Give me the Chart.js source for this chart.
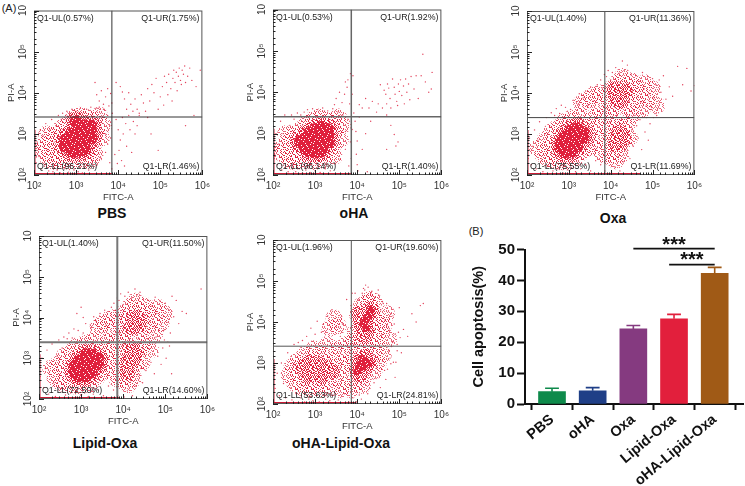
<!DOCTYPE html>
<html><head><meta charset="utf-8">
<script src="https://cdn.jsdelivr.net/npm/chart.js@4"></script>
<style>
html,body{margin:0;padding:0;background:#fff;width:745px;height:486px;overflow:hidden}
canvas{position:absolute;display:block}
.t{position:absolute;font-family:"Liberation Sans",Arial,sans-serif;color:#111;white-space:nowrap;transform:translate(-50%,-50%)}
.b{font-weight:bold;font-size:14px}
.p{font-size:11px;color:#222}
</style></head><body>
<div class="t p" style="left:9px;top:8px">(A)</div>
<div class="t p" style="left:476px;top:231px">(B)</div>
<div class="t b" style="left:112px;top:213px">PBS</div>
<div class="t b" style="left:354px;top:213px">oHA</div>
<div class="t b" style="left:613px;top:218px">Oxa</div>
<div class="t b" style="left:105px;top:443px">Lipid-Oxa</div>
<div class="t b" style="left:341px;top:443px">oHA-Lipid-Oxa</div>
<script>
// All flow-cytometry coordinates are log10(value) x 100, as flat x,y lists.
const pbsLabels=['Q1-UL(0.57%)','Q1-UR(1.75%)','Q1-LL(96.21%)','Q1-LR(1.46%)'];
const ohaLabels=['Q1-UL(0.53%)','Q1-UR(1.92%)','Q1-LL(96.14%)','Q1-LR(1.40%)'];
const oxaLabels=['Q1-UL(1.40%)','Q1-UR(11.36%)','Q1-LL(75.55%)','Q1-LR(11.69%)'];
const lipLabels=['Q1-UL(1.40%)','Q1-UR(11.50%)','Q1-LL(72.50%)','Q1-LR(14.60%)'];
const allLabels=['Q1-UL(1.96%)','Q1-UR(19.60%)','Q1-LL(53.63%)','Q1-LR(24.81%)'];

const pbsCore=[275,285,275,270,290,300,290,285,290,270,290,258,305,315,305,300,305,285,305,270,305,258,320,320,320,305,320,290,320,275,320,262,335,320,335,305,335,290,300,330];
const pbsDense=[];
const pbsHalo=[225,275,235,250,240,290,245,265,250,300,255,235,255,280,260,250,265,315,265,235,270,300,275,240,280,325,285,232,295,340,300,235,310,345,320,235,325,340,335,255,340,335,345,280,350,310,355,345,360,290,365,320,345,250,250,232,235,235,230,300,215,260,335,235];
const pbsSpecks=[205,230,208,280,212,245,215,310,218,215,222,295,225,225,228,325,232,262,235,210,238,310,242,335,245,208,248,280,252,320,255,212,258,345,262,205,265,335,268,350,272,215,275,345,278,355,282,207,285,350,290,360,295,212,300,355,305,208,310,362,315,205,320,218,325,360,330,212,335,365,340,235,345,362,350,225,355,365,360,240,365,360,370,255,370,300,375,345,375,275,380,320,380,230,382,290,385,215,386,350,349,395,355,380,360,405,365,372,370,390,375,410,378,368,382,398,385,375,350,362,345,425,395,335,400,310,405,285,402,260,410,340,412,300,418,325,420,270,425,345,428,310,432,255,436,330,440,300,445,320,450,345,392,250,398,228,408,235,415,222,470,340,478,300,495,260,580,345,560,320,395,425,405,415,410,402,415,385,420,360,425,400,430,372,435,355,440,385,445,360,450,350,455,395,460,375,465,355,470,410,475,380,480,420,485,400,490,435,495,360,500,390,505,415,508,370,510,440,515,425,518,395,520,445,525,410,528,380,530,435,532,455,535,425,538,450,540,405,543,440,545,460,548,430,550,420,552,455,555,445,558,465,560,425,565,440,570,460,575,430,595,455,585,415];

const ohaCore=[265,280,275,285,275,270,285,300,285,285,285,270,285,258,300,310,300,295,300,280,300,265,300,255,315,315,315,300,315,285,315,270,315,258,330,310,330,295,330,280];
const ohaDense=[];
const ohaHalo=[225,270,235,245,240,285,245,260,250,300,252,235,255,275,260,245,265,310,268,235,272,300,280,325,282,235,295,335,298,232,310,340,320,235,325,335,335,255,340,330,345,275,350,310,355,340,360,285,365,320,345,245,250,232,235,235,230,300,215,255];
const ohaSpecks=[204,250,207,300,210,225,214,275,218,330,221,212,224,300,228,345,232,238,236,208,240,320,244,345,248,225,250,335,254,208,258,350,262,215,266,345,270,205,274,352,278,212,282,358,288,206,294,360,300,210,306,358,312,206,318,362,324,215,330,355,336,210,342,360,348,228,354,352,360,238,366,345,372,262,372,305,378,335,380,222,384,280,386,240,388,310,350,385,358,400,364,375,370,395,376,412,382,372,346,370,378,430,384,445,372,425,390,440,388,395,392,350,395,330,397,305,400,282,398,250,400,225,402,210,405,340,412,262,420,300,424,208,432,330,470,345,480,320,488,298,492,270,470,262,497,280,405,370,412,362,420,385,428,362,436,378,446,352,450,372,455,418,460,362,464,405,468,395,470,372,472,420,475,410,478,385,480,362,484,432,488,412,490,395,494,378,496,368,498,420,500,402,503,430,506,392,510,415,512,372,515,432,518,400,522,420,525,382,528,438,535,408,540,440,545,385,552,440,556,492,562,425,570,400,578,448,576,408];

const oxaCore=[280,280,280,265,290,295,290,280,290,265,290,255,305,310,305,295,305,280,305,265,305,255,320,315,320,300,320,285,320,270,335,305,335,290];
const oxaDense=[425,400,415,390,435,405,420,380,410,410,418,290,425,280,412,275,420,305,430,295];
const oxaHalo=[225,265,238,250,242,285,250,238,255,270,258,305,265,235,268,255,272,315,282,232,288,330,298,232,305,338,315,240,325,345,330,255,345,265,345,325,352,300,358,340,362,270,368,315,375,290,380,340,380,250,330,375,345,385,360,395,370,365,375,400,395,310,400,280,405,260,410,295,415,320,418,270,422,295,428,315,425,250,432,285,440,325,445,290,450,345,405,340,395,245,412,235,395,380,400,410,408,365,412,395,415,425,420,380,425,405,428,440,432,385,436,415,440,365,445,400,450,430,455,380,460,415,470,395,475,360,482,425,490,385,500,410,510,370];
const oxaSpecks=[203,240,206,290,210,225,214,270,218,310,222,215,226,285,230,330,234,240,238,208,242,300,246,340,250,222,254,320,258,352,262,210,266,345,270,362,274,215,278,350,282,370,286,205,292,365,298,212,304,360,310,382,316,208,322,372,328,215,334,388,340,225,346,370,352,210,358,380,364,235,370,390,376,225,382,355,386,210,352,415,340,405,325,398,318,378,368,420,380,412,385,445,376,432,390,440,394,455,398,330,402,205,406,300,410,220,414,345,418,245,422,210,426,335,430,232,434,260,438,345,442,275,446,240,450,310,454,270,458,345,462,320,466,290,470,335,474,262,478,350,482,305,486,340,490,285,494,325,498,360,502,340,506,350,510,345,392,362,396,402,400,432,404,450,408,388,412,462,416,405,420,448,424,372,428,478,432,455,436,392,440,468,444,380,448,445,452,405,456,358,460,442,464,392,468,428,472,378,476,450,480,410,484,368,488,440,492,398,496,368,500,435,504,388,508,420,512,362,516,432,520,402,526,442,532,385,540,415,548,392,560,465,572,420,582,460,592,405,600,418];

const lipCore=[285,280,285,265,295,295,295,280,295,265,295,255,310,310,310,295,310,280,310,265,310,255,325,310,325,295,325,280,325,265,340,300,340,285];
const lipDense=[428,385,435,380,420,375,440,392,425,400,418,310,425,300,412,290,420,325,430,315,410,265];
const lipHalo=[228,275,238,250,245,285,252,240,256,270,260,305,265,235,270,255,275,315,285,232,290,330,300,232,310,338,320,235,330,345,335,250,350,265,350,325,358,300,362,340,368,270,372,315,380,290,385,340,385,250,340,375,350,385,365,395,372,365,380,400,395,310,400,280,405,260,410,295,415,320,418,270,422,295,428,315,425,250,432,285,440,325,445,290,452,335,405,340,395,245,412,235,465,320,395,380,400,410,408,365,412,395,415,425,420,380,425,405,428,440,432,385,436,415,440,365,445,400,450,430,455,380,460,415,470,395,475,360,482,425,490,385,498,410];
const lipSpecks=[203,255,207,300,211,228,215,275,219,320,223,212,227,290,231,335,235,240,239,206,243,305,247,345,251,225,255,325,259,352,263,210,267,348,271,362,275,215,279,350,283,372,287,205,293,368,299,210,305,362,311,385,317,206,323,375,329,212,335,392,341,222,347,372,353,208,359,382,365,232,371,392,377,222,383,358,387,208,356,418,345,410,330,402,322,382,305,400,300,425,290,410,372,425,382,418,386,448,378,435,390,442,394,458,398,332,402,205,406,302,410,220,414,348,418,245,422,208,426,338,430,232,434,260,438,348,442,275,446,240,450,310,454,270,458,348,462,322,466,290,470,338,474,262,478,352,482,305,486,342,490,285,494,325,498,345,502,300,506,340,510,330,515,262,392,362,396,402,400,432,404,452,408,388,412,462,416,405,420,448,424,372,428,470,432,455,436,392,440,462,444,380,448,445,452,405,456,358,460,442,464,392,468,428,472,378,476,450,480,410,484,368,488,440,492,398,496,368,500,435,504,388,508,420,512,362,516,452,520,402,526,442,532,385,540,415,550,410,585,470];

const allCore=[405,295,415,290,418,305,428,300,410,310,400,280,415,395,422,385,420,405,428,415,432,430];
const allDense=[270,290,285,268,285,300,300,275,305,300,315,268,325,290,340,280,405,300,420,290,420,315,430,300,405,270,410,395,420,380,425,410,432,430,415,365,405,420];
const allHalo=[238,270,245,290,252,250,258,305,262,270,268,240,270,295,275,320,278,260,285,235,285,280,290,310,295,245,298,335,305,290,305,265,312,235,312,320,320,285,320,255,328,305,330,345,335,238,340,280,345,310,355,260,355,335,362,235,365,295,375,345,378,270,385,310,385,235,390,355,395,250,400,335,412,245,415,265,425,350,440,325,440,280,448,345,450,300,462,320,395,375,400,420,405,395,405,355,410,440,412,375,415,425,420,360,425,450,428,385,430,455,438,385,438,415,440,450,445,365,448,405,455,380,465,395,470,420,475,360,378,300,355,390,345,410,335,385];
const allSpecks=[205,238,210,275,215,220,220,300,225,250,230,215,235,325,240,240,245,210,250,345,255,225,260,350,265,215,270,355,275,205,280,365,285,212,290,385,295,208,300,370,305,402,310,205,315,375,320,395,325,212,330,415,335,208,340,430,345,222,350,390,355,210,360,365,365,395,370,225,375,455,380,205,385,440,390,215,395,470,400,228,405,222,410,212,415,482,420,490,425,225,430,238,435,475,440,252,445,262,450,478,455,240,460,450,465,282,470,445,475,330,480,298,485,415,490,370,495,345,500,435,505,325,510,382,520,365,530,420,540,400,550,440,557,445,388,470,392,345,398,205,405,455,412,470,418,478,422,462,426,485,432,470,436,465,442,460,448,440,452,465,456,430,458,368,462,445,466,405,470,392,476,380,480,420,484,350,488,395,492,302,495,330,498,375,502,362,460,305,468,260,472,285,478,312,482,340,486,302,490,265];

const pbsEdges=[200,385,200,310], ohaEdges=[200,386,200,312], oxaEdges=[200,470,200,310], lipEdges=[200,390,200,310], allEdges=[200,395,200,310];

// stipple used to fill the dense parts of each cloud
const stipple=["7291508364917250","3846172905382641","0519637428160793","6283904175926348","9471260853740125","1738492016583769","5062817349271804","2947350681496352","8305162794038167","4619728530651429","7182405963287510","0354891276419836","6927143508762094","3580269417035681","9146735820194273","1870426395628547"];
function stipplePattern(level,alpha){
  const t=document.createElement('canvas');t.width=t.height=16;const x=t.getContext('2d');
  x.fillStyle=`rgba(224,32,60,${alpha})`;
  stipple.forEach((r,j)=>[...r].forEach((d,i)=>{if(+d<level)x.fillRect(i,j,1,1)}));
  return x.createPattern(t,'repeat');
}
const decades={100:'10²',1000:'10³',10000:'10⁴',100000:'10⁵',1000000:'10⁶'};
const pairs=f=>{const o=[];for(let i=0;i<f.length;i+=2)o.push({x:10**(f[i]/100),y:10**(f[i+1]/100)});return o};
const F='"Liberation Sans",Arial,sans-serif';

function panel(L,T,R,B,gx,gy,lineColor,lineW,labels,core,dense,halo,specks,edges,coreR){
  const c=document.createElement('canvas');
  const left=34,top=6,right=12,bot=28;
  c.width=R-L+left+right;c.height=B-T+top+bot;
  c.style.left=(L-left)+'px';c.style.top=(T-top)+'px';
  c.style.width=c.width+'px';c.style.height=c.height+'px';
  document.body.appendChild(c);
  const line=(data,col,w)=>({type:'scatter',showLine:true,data,borderColor:col,borderWidth:w,pointRadius:0,fill:false});
  const g=x=>10**(x/100);
  new Chart(c,{type:'scatter',
    data:{datasets:[
      {...line([{x:g(gx),y:100},{x:g(gx),y:1e6}],lineColor,lineW),order:0},
      {...line([{x:100,y:g(gy)},{x:1e6,y:g(gy)}],lineColor,lineW),order:0},
      {...line([{x:g(edges[0]),y:100},{x:g(edges[1]),y:100}],'#c81a34',4),order:1},
      {...line([{x:100,y:g(edges[2])},{x:100,y:g(edges[3])}],'#c81a34',3),order:1},
      {data:pairs(specks),pointRadius:0.7,borderWidth:0,backgroundColor:'rgba(222,34,64,.85)',order:2},
      {data:pairs(core),pointRadius:coreR,borderWidth:0,backgroundColor:stipplePattern(9,1),order:3},
      {data:pairs(dense),pointRadius:8,borderWidth:0,backgroundColor:stipplePattern(5,.9),order:4},
      {data:pairs(core),pointRadius:coreR+4,borderWidth:0,backgroundColor:stipplePattern(5,.9),order:5},
      {data:pairs(halo),pointRadius:8.5,borderWidth:0,backgroundColor:stipplePattern(3,.7),order:6}
    ]},
    options:{responsive:false,animation:false,events:[],
      layout:{padding:{top,right}},
      plugins:{legend:{display:false},tooltip:{enabled:false}},
      scales:{
        x:{type:'logarithmic',min:100,max:1e6,
          afterFit(s){s.height=bot},
          grid:{display:false,drawTicks:false},border:{display:false},
          title:{display:true,text:'FITC-A',color:'#333',font:{family:F,size:9.5},padding:{top:0,bottom:0}},
          ticks:{autoSkip:false,maxRotation:0,minRotation:0,padding:5,color:'#333',font:{family:F,size:10},callback:v=>decades[v]||''}},
        y:{type:'logarithmic',min:100,max:1e6,
          afterFit(s){s.width=left},
          grid:{display:false,drawTicks:false},border:{display:false},
          title:{display:true,text:'PI-A',color:'#333',font:{family:F,size:9.5},padding:{top:6,bottom:0}},
          ticks:{autoSkip:false,minRotation:90,maxRotation:90,crossAlign:'center',padding:3,color:'#333',font:{family:F,size:10},callback:v=>v===1e6?'10':(decades[v]||'')}}
      }},
    plugins:[{id:'frame',afterDraw(ch){
      const x=ch.ctx,a=ch.chartArea,sx=ch.scales.x,sy=ch.scales.y;
      x.save();
      x.strokeStyle='#555';x.lineWidth=1;x.strokeRect(a.left+.5,a.top+.5,a.right-a.left-1,a.bottom-a.top-1);
      x.strokeStyle='#222';x.beginPath();
      sx.ticks.forEach(t=>{const p=Math.round(sx.getPixelForValue(t.value))+.5,l=t.major?5:2.5;x.moveTo(p,a.bottom);x.lineTo(p,a.bottom-l)});
      sy.ticks.forEach(t=>{const p=Math.round(sy.getPixelForValue(t.value))+.5,l=t.major?5:2.5;x.moveTo(a.left,p);x.lineTo(a.left+l,p)});
      x.stroke();
      x.fillStyle='#222';x.font='8.8px '+F;x.textBaseline='middle';
      x.textAlign='left';x.fillText(labels[0],a.left+3,a.top+8);x.fillText(labels[2],a.left+3,a.bottom-8);
      x.textAlign='right';x.fillText(labels[1],a.right-3,a.top+8);x.fillText(labels[3],a.right-3,a.bottom-8);
      x.restore();
    }}]
  });
}
panel(34,6,203,175,385,341,'#333',1,pbsLabels,pbsCore,pbsDense,pbsHalo,pbsSpecks,pbsEdges,6.5);
panel(273,5,442,175,386,341,'#666',1.5,ohaLabels,ohaCore,ohaDense,ohaHalo,ohaSpecks,ohaEdges,6.5);
panel(527,7,695,175,386,340,'#444',1,oxaLabels,oxaCore,oxaDense,oxaHalo,oxaSpecks,oxaEdges,6);
panel(39,232,208,399,386,339,'#777',2,lipLabels,lipCore,lipDense,lipHalo,lipSpecks,lipEdges,6);
panel(273,237,442,404,386,341,'#555',1,allLabels,allCore,allDense,allHalo,allSpecks,allEdges,4);

// Panel B
const categories=['PBS','oHA','Oxa','Lipid-Oxa','oHA-Lipid-Oxa'];
const apoptosis=[4.0,4.3,24.3,27.6,42.3];
const apoptosisError=[1.1,1.0,1.1,1.4,1.9];
const barColors=['#0e8a4b','#1f3f87','#853a80','#e21f3c','#a05a16'];
const ytickVals=[0,10,20,30,40,50];
const bracketTop=[2,4,50.3], bracketLow=[2.88,4,45.1];
const cap=0.17;
const cb=document.createElement('canvas');
cb.width=280;cb.height=261;cb.style.left='465px';cb.style.top='225px';cb.style.width='280px';cb.style.height='261px';
document.body.appendChild(cb);
const errSets=categories.map((_,i)=>{const v=apoptosis[i],t=v+apoptosisError[i];
  return {type:'line',data:[{x:i-cap,y:t},{x:i+cap,y:t},{x:i,y:t},{x:i,y:v}],borderColor:barColors[i],borderWidth:1.6,pointRadius:0,fill:false,tension:0,order:1}});
new Chart(cb,{type:'bar',
  data:{datasets:[
    {type:'line',data:[{x:bracketTop[0],y:bracketTop[2]},{x:bracketTop[1],y:bracketTop[2]}],borderColor:'#111',borderWidth:1.8,pointRadius:0,clip:false,order:0},
    {type:'line',data:[{x:bracketLow[0],y:bracketLow[2]},{x:bracketLow[1],y:bracketLow[2]}],borderColor:'#111',borderWidth:1.8,pointRadius:0,clip:false,order:0},
    ...errSets,
    {type:'bar',data:apoptosis.map((v,i)=>({x:i,y:v})),backgroundColor:barColors,barThickness:27,order:2}
  ]},
  options:{responsive:false,animation:false,events:[],
    layout:{padding:{top:24.5,right:2}},
    plugins:{legend:{display:false},tooltip:{enabled:false}},
    scales:{
      x:{type:'linear',min:-0.664,max:4.696,offset:false,
        afterBuildTicks(s){s.ticks=categories.map((_,i)=>({value:i}))},
        afterFit(s){s.height=82},
        grid:{drawOnChartArea:false,tickLength:6,tickWidth:2,tickColor:'#111'},
        border:{width:2,color:'#111'},
        ticks:{autoSkip:false,minRotation:40,maxRotation:40,padding:1,color:'#111',font:{family:F,size:14.5,weight:'bold'},callback:(v)=>categories[v]}},
      y:{min:0,max:50,
        afterBuildTicks(s){s.ticks=ytickVals.map(value=>({value}))},
        afterFit(s){s.width=60},
        grid:{drawOnChartArea:false,tickLength:8,tickWidth:2,tickColor:'#111'},
        border:{width:2,color:'#111'},
        title:{display:true,text:'Cell apoptosis(%)',color:'#111',font:{family:F,size:14.5,weight:'bold'},padding:{top:5,bottom:0}},
        ticks:{padding:2,color:'#111',font:{family:F,size:15,weight:'bold'}}}
    }},
  plugins:[{id:'stars',afterDraw(ch){
    const x=ch.ctx,sx=ch.scales.x,sy=ch.scales.y;
    x.save();x.fillStyle='#111';x.font='bold 20px '+F;x.textAlign='center';x.textBaseline='alphabetic';
    x.fillText('***',sx.getPixelForValue(3),sy.getPixelForValue(bracketTop[2])+2);
    x.fillText('***',sx.getPixelForValue(3.44),sy.getPixelForValue(bracketLow[2])+1);
    x.restore();
  }}]
});
</script></body></html>
